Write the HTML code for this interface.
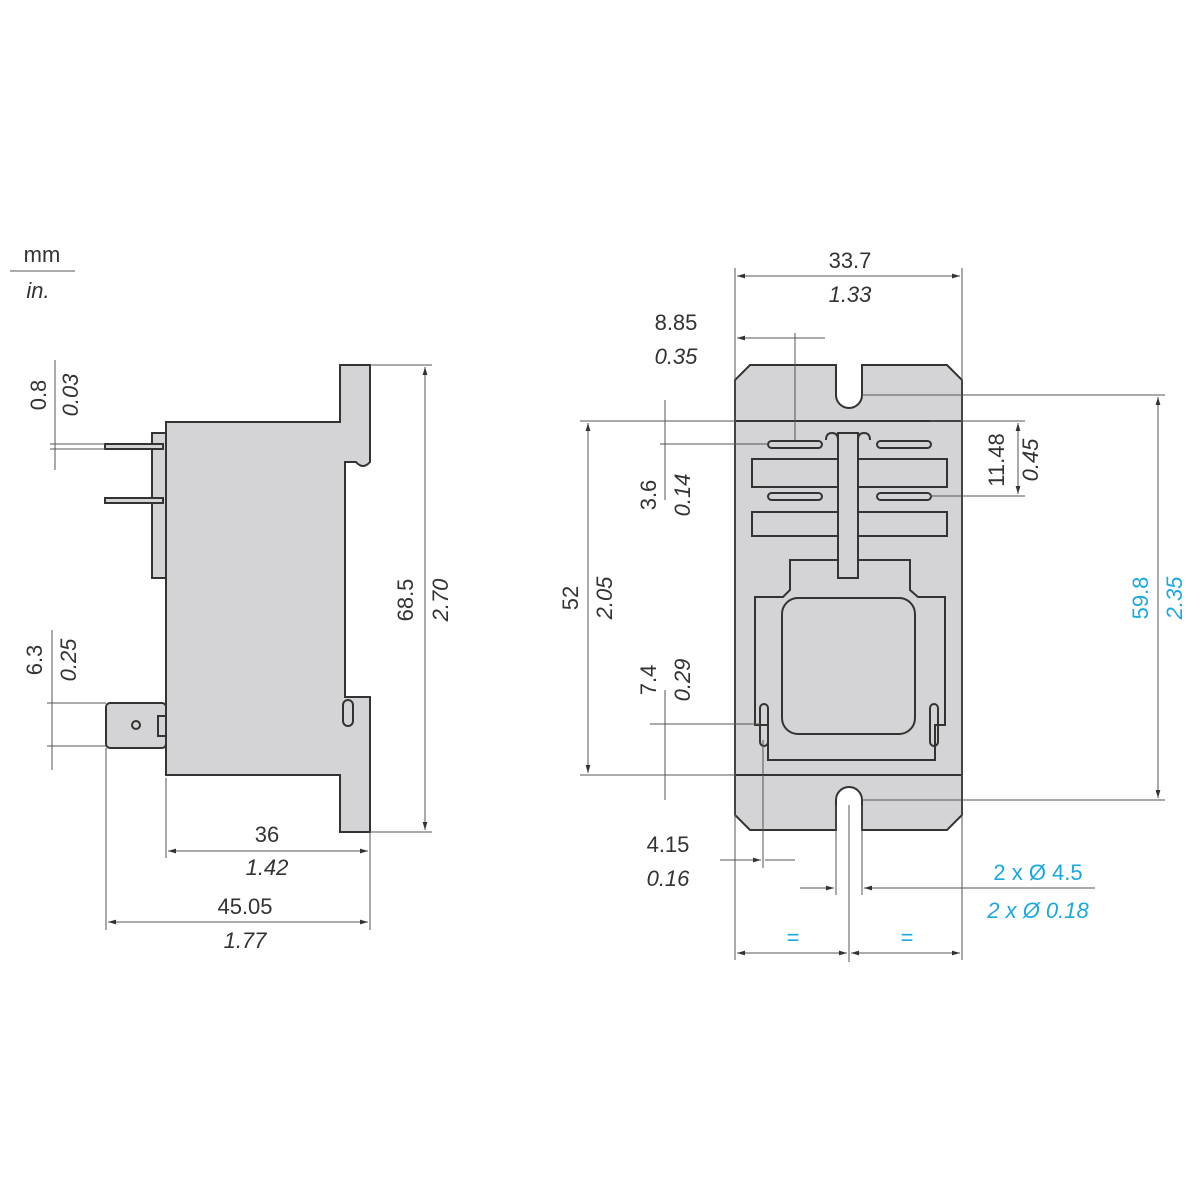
<!DOCTYPE html>
<html><head><style>
body{margin:0;background:#fff;}
svg{display:block;font-family:"Liberation Sans",sans-serif;}
.t{font-size:22px;fill:#333;text-anchor:middle}
.i{font-style:italic}
.b{fill:#1aa8e0}
.d{stroke:#555;stroke-width:1;fill:none}
.o{stroke:#333;stroke-width:2;fill:#d4d4d6}
.k{stroke:#333;stroke-width:2;fill:none}
</style></head><body>
<svg width="1200" height="1200" viewBox="0 0 1200 1200">
<defs>
<marker id="a" viewBox="0 0 10 10" refX="10" refY="5" markerWidth="8" markerHeight="8" orient="auto-start-reverse"><path d="M0,2 L10,5 L0,8z" fill="#333"/></marker>
</defs>
<!-- unit -->
<text class="t" x="42" y="262" font-size="20">mm</text>
<line x1="10" y1="271" x2="75" y2="271" class="d"/>
<text class="t i" x="38" y="298" font-size="20">in.</text>

<!-- LEFT VIEW -->
<rect x="152" y="433" width="14" height="145" class="o"/>
<rect x="105" y="444" width="58" height="5" class="o" stroke-width="1.5"/>
<rect x="105" y="498" width="58" height="5" class="o" stroke-width="1.5"/>
<path d="M166,422 H340 V365 H370 V462 Q363,470 356,462 H345 V697 H370 V832 H340 V775 H166 Z" class="o"/>
<rect x="106" y="703" width="60" height="45" rx="4" class="o"/>
<circle cx="136" cy="725" r="4" class="k" stroke-width="1.5"/>
<rect x="158" y="716" width="8" height="20" class="k" stroke-width="1.5"/>
<rect x="343" y="700" width="10" height="26" rx="5" class="k" stroke-width="1.5"/>
<!-- dims left -->
<line x1="370" y1="365" x2="432" y2="365" class="d"/>
<line x1="370" y1="832" x2="432" y2="832" class="d"/>
<line x1="425" y1="367" x2="425" y2="830" class="d" marker-start="url(#a)" marker-end="url(#a)"/>
<text class="t" transform="translate(413,600) rotate(-90)">68.5</text>
<text class="t i" transform="translate(448,600) rotate(-90)">2.70</text>
<line x1="166" y1="778" x2="166" y2="858" class="d"/>
<line x1="370" y1="832" x2="370" y2="930" class="d"/>
<line x1="106" y1="748" x2="106" y2="930" class="d"/>
<line x1="168" y1="851" x2="368" y2="851" class="d" marker-start="url(#a)" marker-end="url(#a)"/>
<text class="t" x="267" y="842">36</text>
<text class="t i" x="267" y="875">1.42</text>
<line x1="108" y1="922" x2="368" y2="922" class="d" marker-start="url(#a)" marker-end="url(#a)"/>
<text class="t" x="245" y="914">45.05</text>
<text class="t i" x="245" y="948">1.77</text>
<line x1="55" y1="360" x2="55" y2="470" class="d"/>
<line x1="50" y1="444" x2="105" y2="444" class="d"/>
<line x1="50" y1="449" x2="105" y2="449" class="d"/>
<text class="t" transform="translate(46,395) rotate(-90)">0.8</text>
<text class="t i" transform="translate(78,395) rotate(-90)">0.03</text>
<line x1="52" y1="630" x2="52" y2="770" class="d"/>
<line x1="47" y1="703" x2="106" y2="703" class="d"/>
<line x1="47" y1="746" x2="106" y2="746" class="d"/>
<text class="t" transform="translate(42,660) rotate(-90)">6.3</text>
<text class="t i" transform="translate(76,660) rotate(-90)">0.25</text>

<!-- RIGHT VIEW -->
<path d="M750,365 H836 V395 A13,13 0 0 0 862,395 V365 H947 L962,380 V815 L947,830 H862 V800 A13,13 0 0 0 836,800 V830 H750 L735,815 V380 Z" class="o"/>
<line x1="735" y1="421" x2="962" y2="421" class="k"/>
<line x1="735" y1="775" x2="962" y2="775" class="k"/>
<rect x="768" y="441" width="54" height="7" rx="3.5" class="k" stroke-width="1.5"/>
<rect x="877" y="441" width="54" height="7" rx="3.5" class="k" stroke-width="1.5"/>
<rect x="752" y="459" width="195" height="28" class="k"/>
<rect x="768" y="493" width="54" height="7" rx="3.5" class="k" stroke-width="1.5"/>
<rect x="877" y="493" width="54" height="7" rx="3.5" class="k" stroke-width="1.5"/>
<rect x="752" y="512" width="195" height="24" class="k"/>
<path d="M790,560 H910 V590 L918,597 H945 V725 H935 V760 H768 V725 H755 V597 H783 L790,590 Z" class="o"/>
<rect x="782" y="598" width="133" height="136" rx="16" class="o"/>
<rect x="838" y="433" width="20" height="145" class="o"/>
<path d="M826,440 q0,-7 6,-7 q6,0 6,7 M870,440 q0,-7 -6,-7 q-6,0 -6,7" class="k" stroke-width="1.5"/>
<rect x="760" y="704" width="8" height="42" rx="4" class="k" stroke-width="1.5"/>
<rect x="930" y="704" width="8" height="42" rx="4" class="k" stroke-width="1.5"/>
<!-- dims right -->
<line x1="735" y1="268" x2="735" y2="960" class="d"/>
<line x1="962" y1="268" x2="962" y2="960" class="d"/>
<line x1="737" y1="276" x2="960" y2="276" class="d" marker-start="url(#a)" marker-end="url(#a)"/>
<text class="t" x="850" y="268">33.7</text>
<text class="t i" x="850" y="302">1.33</text>
<line x1="737" y1="338" x2="825" y2="338" class="d" marker-start="url(#a)"/>
<line x1="795" y1="333" x2="795" y2="440" class="d"/>
<text class="t" x="676" y="330">8.85</text>
<text class="t i" x="676" y="364">0.35</text>
<line x1="580" y1="421" x2="735" y2="421" class="d"/>
<line x1="580" y1="775" x2="735" y2="775" class="d"/>
<line x1="588" y1="423" x2="588" y2="773" class="d" marker-start="url(#a)" marker-end="url(#a)"/>
<text class="t" transform="translate(578,598) rotate(-90)">52</text>
<text class="t i" transform="translate(612,598) rotate(-90)">2.05</text>
<line x1="665" y1="400" x2="665" y2="500" class="d"/>
<line x1="660" y1="444" x2="768" y2="444" class="d"/>
<text class="t" transform="translate(656,495) rotate(-90)">3.6</text>
<text class="t i" transform="translate(690,495) rotate(-90)">0.14</text>
<line x1="665" y1="690" x2="665" y2="800" class="d"/>
<line x1="650" y1="724" x2="760" y2="724" class="d"/>
<text class="t" transform="translate(656,680) rotate(-90)">7.4</text>
<text class="t i" transform="translate(690,680) rotate(-90)">0.29</text>
<line x1="930" y1="421" x2="1025" y2="421" class="d"/>
<line x1="930" y1="496" x2="1025" y2="496" class="d"/>
<line x1="1018" y1="423" x2="1018" y2="494" class="d" marker-start="url(#a)" marker-end="url(#a)"/>
<text class="t" transform="translate(1004,460) rotate(-90)">11.48</text>
<text class="t i" transform="translate(1038,460) rotate(-90)">0.45</text>
<line x1="862" y1="395" x2="1165" y2="395" class="d"/>
<line x1="862" y1="800" x2="1165" y2="800" class="d"/>
<line x1="1158" y1="397" x2="1158" y2="798" class="d" marker-start="url(#a)" marker-end="url(#a)"/>
<text class="t b" transform="translate(1148,598) rotate(-90)">59.8</text>
<text class="t b i" transform="translate(1182,598) rotate(-90)">2.35</text>
<line x1="763" y1="740" x2="763" y2="868" class="d"/>
<line x1="720" y1="860" x2="761" y2="860" class="d" marker-end="url(#a)"/>
<line x1="765" y1="860" x2="795" y2="860" class="d"/>
<text class="t" x="668" y="852">4.15</text>
<text class="t i" x="668" y="886">0.16</text>
<line x1="836" y1="805" x2="836" y2="895" class="d"/>
<line x1="862" y1="805" x2="862" y2="895" class="d"/>
<line x1="800" y1="888" x2="834" y2="888" class="d" marker-end="url(#a)"/>
<line x1="1095" y1="888" x2="864" y2="888" class="d" marker-end="url(#a)"/>
<text class="t b" x="1038" y="880">2 x Ø 4.5</text>
<text class="t b i" x="1038" y="918">2 x Ø 0.18</text>
<line x1="849" y1="805" x2="849" y2="962" class="d"/>
<line x1="737" y1="953" x2="847" y2="953" class="d" marker-start="url(#a)" marker-end="url(#a)"/>
<line x1="851" y1="953" x2="960" y2="953" class="d" marker-start="url(#a)" marker-end="url(#a)"/>
<text class="t b" x="793" y="945" font-size="16">=</text>
<text class="t b" x="907" y="945" font-size="16">=</text>
</svg>
</body></html>
